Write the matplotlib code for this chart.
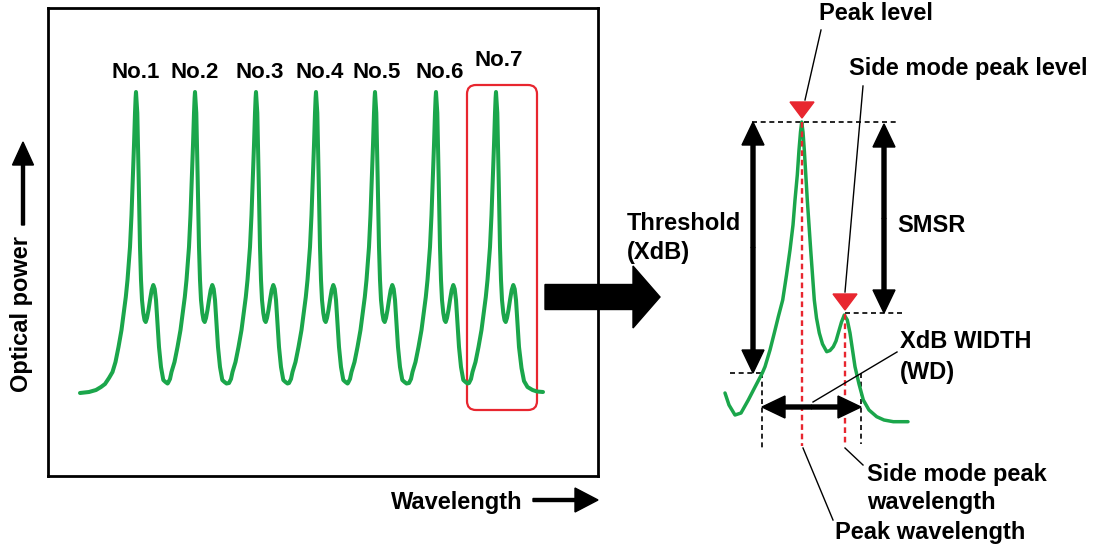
import matplotlib
matplotlib.use('Agg')
import matplotlib.pyplot as plt
from matplotlib.patches import FancyBboxPatch, FancyArrow, Polygon

W, H = 1097, 549
plt.rcParams['font.family'] = ['Liberation Sans', 'DejaVu Sans']
plt.rcParams['font.weight'] = 'bold'

GREEN = '#1ba64b'
RED = '#e8262f'

# ---- left spectrum (x: wavelength, y: optical power, arbitrary units) ----
peak_pos = [88, 147, 208, 268, 327, 388, 448]
peak_names = ['No.1', 'No.2', 'No.3', 'No.4', 'No.5', 'No.6', 'No.7']
label_pos = [88, 147, 212, 272, 329, 392, 451]

# one peak shape, relative to its peak wavelength
rise_dx = [-27, -25, -23.5, -20.5, -17.5, -14.5, -12.3, -10.2, -8.5, -6, -4.5, -3.2, -2, -1, -0.4, 0]
rise_pw = [93, 97, 104, 114, 129, 146, 163, 179, 196, 229, 261, 296, 331, 363, 378, 384]
fall_dx = [0.4, 1.3, 2, 2.7, 4, 5, 6, 7.3, 8.5, 9.7, 11, 12.5, 14, 15.7, 17.3, 18.7,
           20, 21.5, 23, 25, 27.3, 29.5, 31.5]
fall_pw = [378, 363, 331, 296, 229, 196, 176, 163, 156, 154, 158, 166, 176, 186, 191, 187,
           176, 153, 129, 109, 96, 94, 92.5]
lead_dx = [-56, -47, -40, -35, -31, -27]
lead_pw = [83, 84, 86, 89, 92, 98]
tail_dx = [25.5, 28, 31.5, 36.5, 41, 47]
tail_pw = [108, 95, 89, 86, 84.5, 84]

# ---- zoomed peak No.7 (drawn in figure pixel units) ----
zoom_x = [725, 729, 735, 741, 748.3, 755, 762.3, 765, 770, 774.3, 778.5, 782.7, 786.5, 790,
          793, 795, 797.3, 799, 800.5, 801.7, 803, 804.3, 805.8, 807.3, 809, 810.7, 812.5,
          814.3, 816.5, 819.3, 822.5, 826.7, 830, 833.3, 836, 838.3, 841.5, 844.3, 847.3,
          850, 855, 859, 863.3, 869, 876.7, 884, 893.3, 908]
zoom_y = [393, 405, 415, 413, 400, 387, 373, 366.7, 350, 333, 316, 300, 275, 250,
          225, 200, 175, 150, 132, 122, 132, 150, 175, 200, 225, 250, 275,
          300, 318, 333, 344, 351.7, 350.5, 346.7, 341, 333, 322, 315, 320,
          333, 366.7, 384, 400, 410, 416.7, 420, 421.7, 421.7]
peak_pt = (802, 122)
side_pt = (845, 314)
thr_y = 373
wd_left, wd_right = 762, 861

fig = plt.figure(figsize=(W / 100, H / 100), dpi=100)

# left box
ax = fig.add_axes([48 / W, (H - 476) / H, 550 / W, 468 / H])
ax.set_xlim(0, 550)
ax.set_ylim(0, 468)
ax.set_xticks([])
ax.set_yticks([])
for s in ax.spines.values():
    s.set_linewidth(2.0)

xs, ys = [], []
n = len(peak_pos)
for i, p in enumerate(peak_pos):
    if i == 0:
        xs += [p + d for d in lead_dx] + [p + d for d in rise_dx[2:]]
        ys += lead_pw + rise_pw[2:]
    else:
        xs += [p + d for d in rise_dx]
        ys += rise_pw
    if i == n - 1:
        xs += [p + d for d in fall_dx[:19]] + [p + d for d in tail_dx]
        ys += fall_pw[:19] + tail_pw
    else:
        xs += [p + d for d in fall_dx]
        ys += fall_pw
ax.plot(xs, ys, color=GREEN, lw=2.9, solid_joinstyle='round', solid_capstyle='round', zorder=3)

for name, lx in zip(peak_names, label_pos):
    ly = 416 if name == 'No.7' else 404
    ax.text(lx, ly, name, ha='center', va='center', fontsize=16, fontweight='bold')

ax.add_patch(FancyBboxPatch((419, 66), 70, 325, boxstyle='round,pad=0,rounding_size=9',
                            fc='none', ec=RED, lw=1.6, zorder=2))

# overlay in pixel units
ov = fig.add_axes([0, 0, 1, 1])
ov.set_xlim(0, W)
ov.set_ylim(H, 0)
ov.axis('off')
ov.patch.set_alpha(0)

# axis labels
ov.text(22, 314, 'Optical power', rotation=90, ha='center', va='center', fontsize=17)
ov.add_patch(FancyArrow(23, 225, 0, -83, width=3, head_width=21, head_length=23,
                        length_includes_head=True, color='black'))
ov.text(391, 502, 'Wavelength', ha='left', va='center', fontsize=17)
ov.add_patch(FancyArrow(533, 500, 65, 0, width=3, head_width=24, head_length=23,
                        length_includes_head=True, color='black'))

# fat arrow
ov.add_patch(FancyArrow(545, 297, 115, 0, width=25, head_width=62, head_length=27,
                        length_includes_head=True, color='black'))

# zoomed peak
ov.plot(zoom_x, zoom_y, color=GREEN, lw=2.5, solid_joinstyle='round', solid_capstyle='round', zorder=3)

dash_k = dict(color='black', lw=1.2, dashes=(3, 2.2), zorder=2)
ov.plot([752, 898], [peak_pt[1], peak_pt[1]], **dash_k)
ov.plot([side_pt[0], 903], [side_pt[1] - 1, side_pt[1] - 1], **dash_k)
ov.plot([730, wd_left], [thr_y, thr_y], **dash_k)
ov.plot([wd_left, wd_left], [thr_y, 450], **dash_k)
ov.plot([wd_right, wd_right], [thr_y, 444], **dash_k)

dash_r = dict(color=RED, lw=1.7, dashes=(2.4, 1.6), zorder=4)
ov.plot([peak_pt[0], peak_pt[0]], [peak_pt[1], 446], **dash_r)
ov.plot([side_pt[0], side_pt[0]], [side_pt[1], 444], **dash_r)

for (px, py) in [peak_pt, side_pt]:
    ov.add_patch(Polygon([(px - 12, py - 20), (px + 12, py - 20), (px, py - 4)],
                         closed=True, color=RED, zorder=5))


def double_arrow(x0, y0, x1, y1, hw=22, hl=23, w=4):
    mx, my = (x0 + x1) / 2, (y0 + y1) / 2
    for ex, ey in [(x0, y0), (x1, y1)]:
        ov.add_patch(FancyArrow(mx, my, ex - mx, ey - my, width=w, head_width=hw, head_length=hl,
                                length_includes_head=True, color='black', zorder=6))


double_arrow(753, peak_pt[1], 753, thr_y)
double_arrow(884, peak_pt[1] + 2, 884, side_pt[1] - 1)
double_arrow(wd_left, 407, wd_right, 407)

# leaders
lk = dict(color='black', lw=1.0, zorder=6)
ov.plot([805, 821], [100, 30], **lk)
ov.plot([845, 863], [292, 86], **lk)
ov.plot([813, 897], [402, 352], **lk)
ov.plot([803, 833], [448, 520], **lk)
ov.plot([845, 863], [448, 465], **lk)

# texts
ov.text(876, 14, 'Peak level', ha='center', va='center', fontsize=17)
ov.text(968, 68, 'Side mode peak level', ha='center', va='center', fontsize=17)
ov.text(627, 223, 'Threshold', ha='left', va='center', fontsize=17)
ov.text(627, 253, '(XdB)', ha='left', va='center', fontsize=17)
ov.text(931, 226, 'SMSR', ha='center', va='center', fontsize=17)
ov.text(900, 342, 'XdB WIDTH', ha='left', va='center', fontsize=17)
ov.text(900, 372, '(WD)', ha='left', va='center', fontsize=17)
ov.text(867, 475, 'Side mode peak', ha='left', va='center', fontsize=17)
ov.text(867, 502, 'wavelength', ha='left', va='center', fontsize=17)
ov.text(835, 533, 'Peak wavelength', ha='left', va='center', fontsize=17)

fig.savefig('out.png', dpi=100)
